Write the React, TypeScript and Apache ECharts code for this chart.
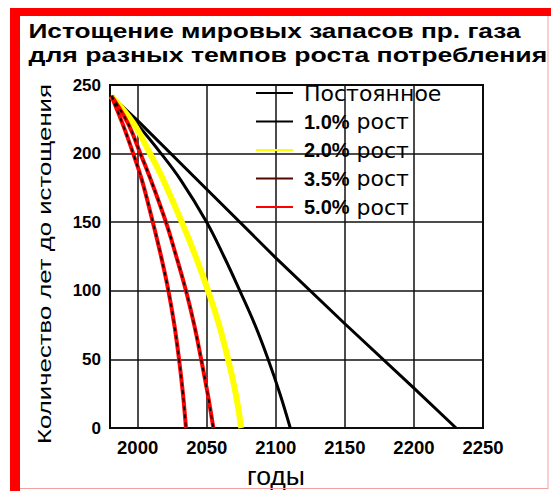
import React, { useEffect, useRef } from "react";
import * as echarts from "echarts";

// ---- data ----
const titleLines = ["Истощение мировых запасов пр. газа", "для разных темпов роста потребления"];
const yAxisName = "Количество лет до истощения";
const xAxisName = "годы";

const seriesNames = ["Постоянное", "1.0% рост", "2.0% рост", "3.5% рост", "5.0% рост"];

const constYears = [1981, 2000, 2050, 2100, 2150, 2200, 2230.5];
const constVals = [242, 224, 174, 124, 76, 29, 0];

const g1Years = [1981, 2000, 2017, 2031, 2050, 2062.5, 2074, 2085, 2094.5, 2103, 2110.5];
const g1Vals = [242, 221, 200, 181, 150, 125, 100, 75, 50, 25, 0];

const g2Years = [1981, 1997, 2009, 2018.5, 2032, 2042, 2051, 2059, 2065.5, 2071, 2075];
const g2Vals = [242, 222, 200, 181, 150, 125, 100, 75, 50, 25, 0];

const g35Years = [1981, 1993, 2002, 2009.5, 2020.5, 2028, 2035, 2041, 2046, 2050.7, 2054.8];
const g35Vals = [242, 222, 200, 181, 150, 125, 100, 75, 50, 25, 0];

const g5Years = [1981, 1989, 1996.8, 2003, 2011, 2017, 2022.3, 2026.6, 2030, 2032.8, 2035];
const g5Vals = [242, 222, 200, 181, 150, 125, 100, 75, 50, 25, 0];

const xMin = 1980;
const xMax = 2250;
const yMin = 0;
const yMax = 250;
const yStep = 50;

const zip = (xs: number[], ys: number[]) => xs.map((x, i) => [x, ys[i]]);

const measure = (text: string, font: string) => {
  const c = document.createElement("canvas").getContext("2d");
  if (!c) return 1;
  c.font = font;
  return c.measureText(text).width || 1;
};

const SMOOTH = 0.4;

export default function App() {
  const ref = useRef<HTMLDivElement>(null);

  useEffect(() => {
    if (!ref.current) return;
    const chart = echarts.init(ref.current, undefined, { renderer: "svg" });

    const titleFont = "bold 20px 'Liberation Sans'";
    const t1w = measure(titleLines[0], titleFont);
    const t2w = measure(titleLines[1], titleFont);
    const yFont = "19px 'Liberation Sans'";
    const yw = measure(yAxisName, yFont);
    const xFont = "25px 'Liberation Sans'";
    const xw = measure(xAxisName, xFont);

    const redLine = (name: string, data: number[][], overlayName: string) => [
      {
        name,
        type: "line",
        data,
        smooth: SMOOTH,
        symbol: "none",
        showSymbol: false,
        lineStyle: { color: "#ff0000", width: 4 },
        itemStyle: { color: "#ff0000" },
        z: 3,
      },
      {
        name: overlayName,
        type: "line",
        data,
        smooth: SMOOTH,
        symbol: "none",
        showSymbol: false,
        lineStyle: { color: "#000000", width: 1.8, type: [4, 4] },
        z: 4,
      },
    ];

    const option: any = {
      animation: false,
      backgroundColor: "#ffffff",
      grid: {
        left: 110,
        right: 551 - 483,
        top: 85,
        bottom: 491 - 428,
        show: true,
        borderColor: "#000",
        borderWidth: 2,
        backgroundColor: "transparent",
      },
      xAxis: {
        type: "value",
        min: xMin,
        max: xMax,
        splitNumber: 5,
        axisLine: { show: false },
        axisTick: { show: false },
        splitLine: { show: true, lineStyle: { color: "#111", width: 1.5 } },
        axisLabel: {
          showMinLabel: false,
          margin: 10,
          color: "#000",
          fontFamily: "Liberation Sans",
          fontWeight: "bold",
          fontSize: 18.5,
          formatter: (v: number) => (v % 50 === 0 ? String(v) : ""),
        },
      },
      yAxis: {
        type: "value",
        min: yMin,
        max: yMax,
        interval: yStep,
        axisLine: { show: false },
        axisTick: { show: false },
        splitLine: { show: true, lineStyle: { color: "#111", width: 1.5 } },
        axisLabel: {
          margin: 9,
          color: "#000",
          fontFamily: "Liberation Sans",
          fontWeight: "bold",
          fontSize: 17,
        },
      },
      legend: {
        data: [
          { name: seriesNames[0] },
          { name: seriesNames[1] },
          { name: seriesNames[2] },
          { name: seriesNames[3], lineStyle: { color: "#520a00" } },
          { name: seriesNames[4] },
        ],
        orient: "vertical",
        left: 255,
        top: 82,
        padding: 0,
        itemWidth: 37,
        itemHeight: 14,
        itemGap: 6.5,
        selectedMode: false,
        itemStyle: { opacity: 0 },
        formatter: (name: string) => {
          if (name === seriesNames[0]) return `{n|${name}}`;
          const parts = name.split(" ");
          return `{b|${parts[0]}}{n| ${parts.slice(1).join(" ")}}`;
        },
        textStyle: {
          padding: [0, 0, 0, 6],
          lineHeight: 20,
          rich: {
            b: { fontFamily: "Liberation Sans", fontWeight: "bold", fontSize: 20, color: "#000", lineHeight: 20 },
            n: { fontFamily: "DejaVu Sans", fontSize: 22, color: "#000", lineHeight: 20 },
          },
        },
      },
      series: [
        {
          name: seriesNames[0],
          type: "line",
          data: zip(constYears, constVals),
          symbol: "none",
          showSymbol: false,
          lineStyle: { color: "#000", width: 3 },
          itemStyle: { color: "#000" },
          z: 2,
        },
        {
          name: seriesNames[1],
          type: "line",
          data: zip(g1Years, g1Vals),
          smooth: SMOOTH,
          symbol: "none",
          showSymbol: false,
          lineStyle: { color: "#000", width: 3 },
          itemStyle: { color: "#000" },
          z: 2,
        },
        {
          name: seriesNames[2],
          type: "line",
          data: zip(g2Years, g2Vals),
          smooth: SMOOTH,
          symbol: "none",
          showSymbol: false,
          lineStyle: { color: "#ffff00", width: 6 },
          itemStyle: { color: "#ffff00" },
          z: 2,
        },
        ...redLine(seriesNames[3], zip(g35Years, g35Vals), "3.5% overlay"),
        ...redLine(seriesNames[4], zip(g5Years, g5Vals), "5.0% overlay"),
      ],
      graphic: [
        { type: "rect", shape: { x: 10, y: 8, width: 541, height: 8 }, style: { fill: "#ff0000" }, z: 10 },
        { type: "rect", shape: { x: 10, y: 8, width: 10, height: 483 }, style: { fill: "#ff0000" }, z: 10 },
        { type: "line", shape: { x1: 548, y1: 16, x2: 548, y2: 489 }, style: { stroke: "#f2a0a0", lineWidth: 1 }, z: 10 },
        { type: "line", shape: { x1: 20, y1: 488.5, x2: 548, y2: 488.5 }, style: { stroke: "#f2a0a0", lineWidth: 1 }, z: 10 },
        {
          type: "text",
          x: 28.5,
          y: 31,
          scaleX: 492.5 / t1w,
          style: {
            text: titleLines[0],
            font: titleFont,
            fill: "#000",
            textAlign: "left",
            align: "left",
            textVerticalAlign: "middle",
            verticalAlign: "middle",
          },
        },
        {
          type: "text",
          x: 28.5,
          y: 55,
          scaleX: 519 / t2w,
          style: {
            text: titleLines[1],
            font: titleFont,
            fill: "#000",
            textAlign: "left",
            align: "left",
            textVerticalAlign: "middle",
            verticalAlign: "middle",
          },
        },
        {
          type: "text",
          x: 45,
          y: 264,
          rotation: Math.PI / 2,
          scaleX: 360 / yw,
          style: {
            text: yAxisName,
            font: yFont,
            fill: "#000",
            textAlign: "center",
            align: "center",
            textVerticalAlign: "middle",
            verticalAlign: "middle",
          },
        },
        {
          type: "text",
          x: 276,
          y: 476,
          scaleX: 58 / xw,
          style: {
            text: xAxisName,
            font: xFont,
            fill: "#000",
            textAlign: "center",
            align: "center",
            textVerticalAlign: "middle",
            verticalAlign: "middle",
          },
        },
      ],
    };

    chart.setOption(option);
    return () => chart.dispose();
  }, []);

  return (
    <div
      ref={ref}
      style={{ position: "fixed", left: 0, top: 0, width: 551, height: 491, background: "#fff" }}
    />
  );
}
